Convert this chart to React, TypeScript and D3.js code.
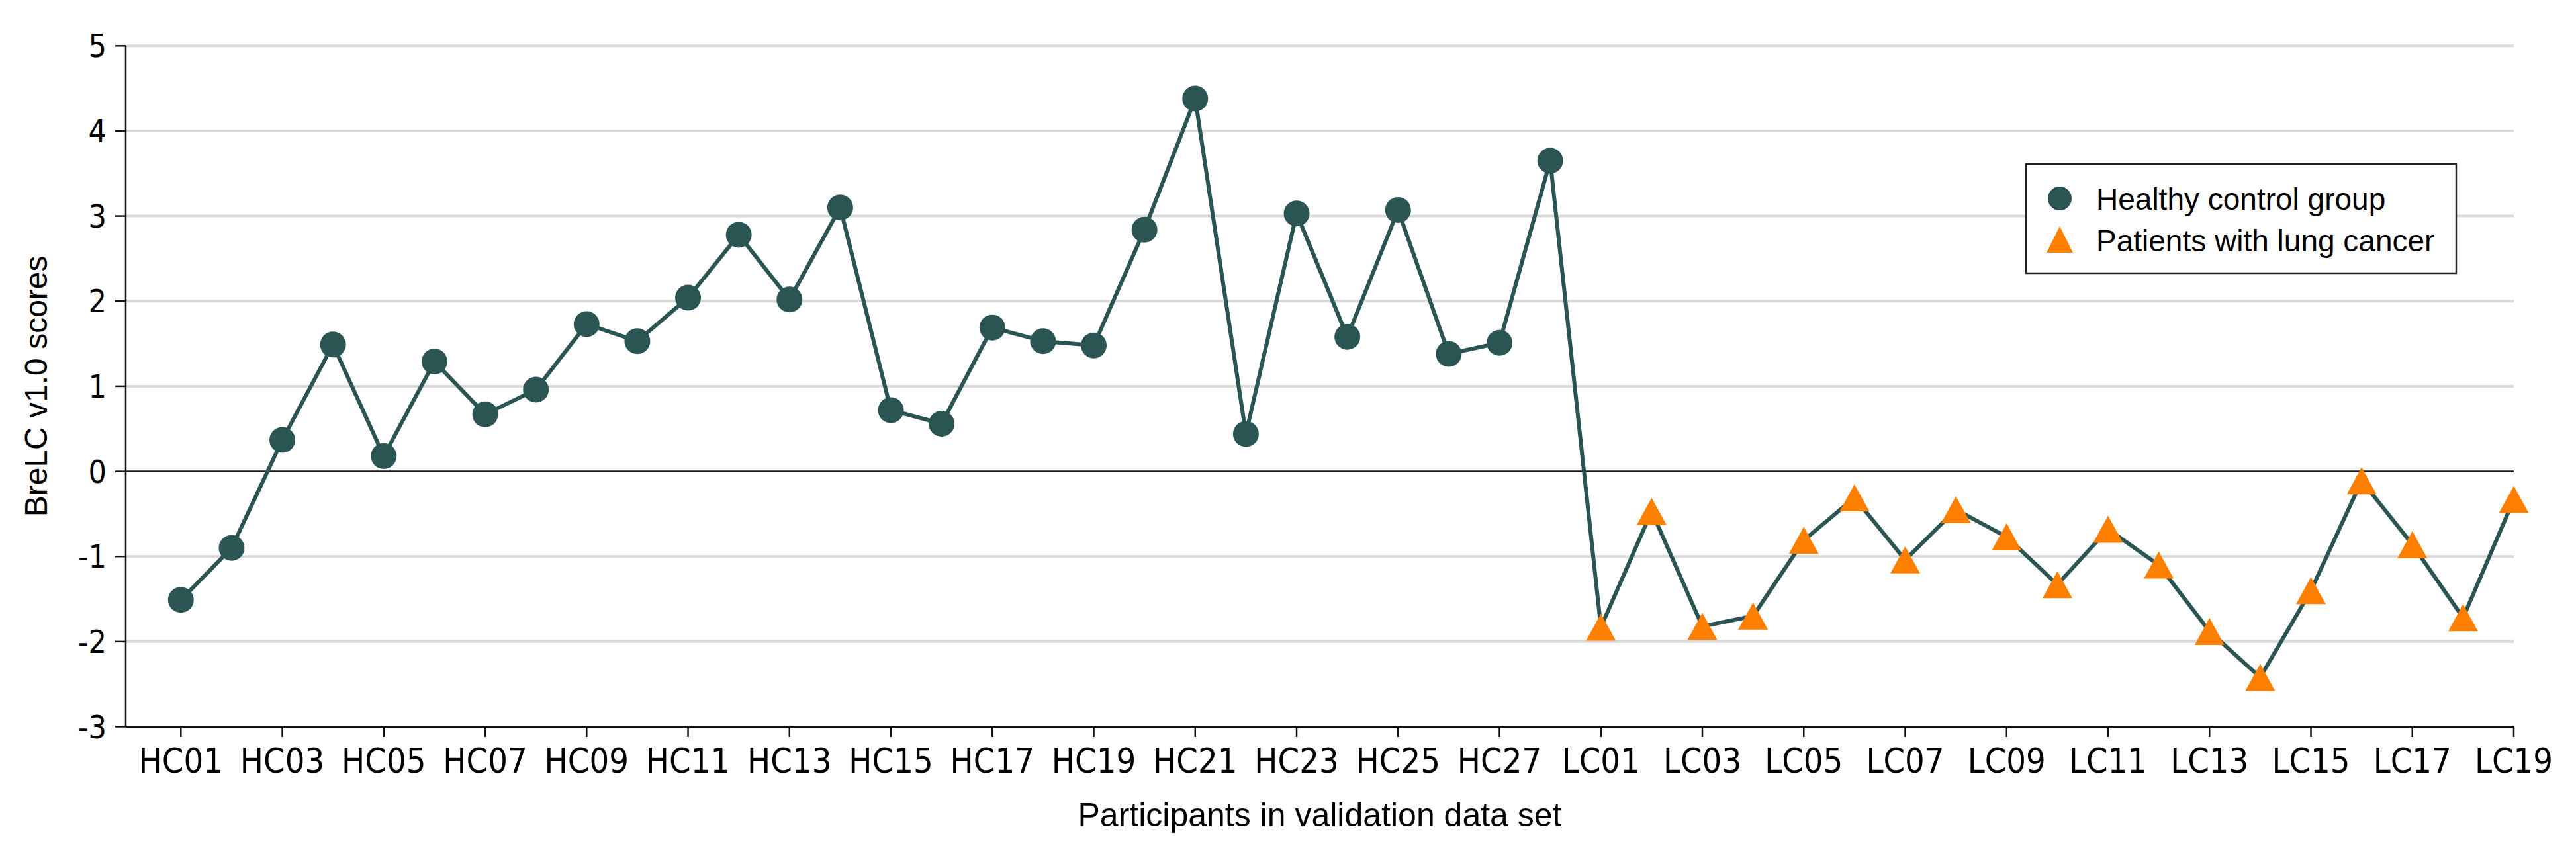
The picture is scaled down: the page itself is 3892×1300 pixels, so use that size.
import React from "react";
import * as d3 from "d3";

const healthyIds = ["HC01","HC02","HC03","HC04","HC05","HC06","HC07","HC08","HC09","HC10","HC11","HC12","HC13","HC14","HC15","HC16","HC17","HC18","HC19","HC20","HC21","HC22","HC23","HC24","HC25","HC26","HC27","HC28"];
const healthyScores = [-1.51,-0.90,0.37,1.49,0.18,1.29,0.67,0.96,1.73,1.53,2.04,2.78,2.02,3.10,0.72,0.56,1.69,1.53,1.48,2.84,4.38,0.44,3.03,1.58,3.07,1.38,1.51,3.65];

const cancerIds = ["LC01","LC02","LC03","LC04","LC05","LC06","LC07","LC08","LC09","LC10","LC11","LC12","LC13","LC14","LC15","LC16","LC17","LC18","LC19"];
const cancerScores = [-1.83,-0.47,-1.82,-1.70,-0.81,-0.31,-1.04,-0.45,-0.77,-1.33,-0.68,-1.10,-1.88,-2.42,-1.40,-0.11,-0.86,-1.72,-0.33];

const xTickLabels = ["HC01","HC03","HC05","HC07","HC09","HC11","HC13","HC15","HC17","HC19","HC21","HC23","HC25","HC27","LC01","LC03","LC05","LC07","LC09","LC11","LC13","LC15","LC17","LC19"];
const yTicks = [-3,-2,-1,0,1,2,3,4,5];

const legendLabels = ["Healthy control group", "Patients with lung cancer"];
const xTitle = "Participants in validation data set";
const yTitle = "BreLC v1.0 scores";

const TEAL = "#2a5553";
const ORANGE = "#ff8000";
const FONT = "'Liberation Sans', Arial, sans-serif";
const NARROW = "'Liberation Sans Narrow', 'Arial Narrow', 'DejaVu Sans Condensed', sans-serif";

export default function App() {
  const W = 3892, H = 1300;
  const left = 190, right = 3798, top = 69.3, bottom = 1098.5;
  const allIds = [...healthyIds, ...cancerIds];
  const x = d3.scalePoint<string>().domain(allIds).range([273.3, 3798]);
  const y = d3.scaleLinear().domain([-3, 5]).range([bottom, top]);

  const points = [
    ...healthyIds.map((id, i) => ({ id, v: healthyScores[i], g: 0 })),
    ...cancerIds.map((id, i) => ({ id, v: cancerScores[i], g: 1 })),
  ];
  const line = d3.line<{ id: string; v: number }>()
    .x(d => x(d.id) as number)
    .y(d => y(d.v));

  const tri = (cx: number, cy: number, w: number, h: number) =>
    `M${cx - w / 2},${cy + h / 2}L${cx + w / 2},${cy + h / 2}L${cx},${cy - h / 2}Z`;

  return (
    <svg width={W} height={H} style={{ position: "absolute", left: 0, top: 0, background: "#fff" }}>
      {/* grid */}
      {yTicks.filter(t => t !== -3 && t !== 0).map(t => (
        <line key={"g" + t} x1={left} x2={right} y1={y(t)} y2={y(t)} stroke="#d9d9d9" strokeWidth={4} />
      ))}
      <line x1={left} x2={right} y1={y(0)} y2={y(0)} stroke="#1a1a1a" strokeWidth={2.5} />
      {/* axes */}
      <line x1={left} x2={left} y1={top} y2={bottom} stroke="#111" strokeWidth={2.5} />
      <line x1={left} x2={right} y1={bottom} y2={bottom} stroke="#111" strokeWidth={3} />
      {yTicks.map(t => (
        <g key={"y" + t}>
          <line x1={174} x2={left} y1={y(t)} y2={y(t)} stroke="#111" strokeWidth={2.5} />
          <text x={161} y={y(t) + 17} textAnchor="end" fontFamily={NARROW} fontSize={48} fill="#000">{t}</text>
        </g>
      ))}
      {xTickLabels.map(lbl => (
        <g key={"x" + lbl}>
          <line x1={x(lbl)} x2={x(lbl)} y1={bottom} y2={1114} stroke="#111" strokeWidth={2.5} />
          <text x={x(lbl)} y={1168} textAnchor="middle" fontFamily={NARROW} fontSize={52} fill="#000">{lbl}</text>
        </g>
      ))}
      {/* titles */}
      <text x={(left + right) / 2} y={1249} textAnchor="middle" fontFamily={FONT} fontSize={50} fill="#000">{xTitle}</text>
      <text transform={`translate(71,${(top + bottom) / 2}) rotate(-90)`} textAnchor="middle" fontFamily={FONT} fontSize={48} fill="#000">{yTitle}</text>
      {/* series line */}
      <path d={line(points) || ""} fill="none" stroke={TEAL} strokeWidth={6} strokeLinejoin="round" />
      {points.filter(p => p.g === 0).map(p => (
        <circle key={p.id} cx={x(p.id)} cy={y(p.v)} r={19.5} fill={TEAL} />
      ))}
      {points.filter(p => p.g === 1).map(p => (
        <path key={p.id} d={tri(x(p.id) as number, y(p.v), 45, 41)} fill={ORANGE} />
      ))}
      {/* legend */}
      <rect x={3061} y={248} width={650} height={165} fill="#fff" stroke="#222" strokeWidth={2.5} />
      <circle cx={3112} cy={300} r={18} fill={TEAL} />
      <path d={tri(3112, 362, 40, 40)} fill={ORANGE} />
      <text x={3167} y={317} fontFamily={FONT} fontSize={46} fill="#000">{legendLabels[0]}</text>
      <text x={3167} y={380} fontFamily={FONT} fontSize={46} fill="#000">{legendLabels[1]}</text>
    </svg>
  );
}
